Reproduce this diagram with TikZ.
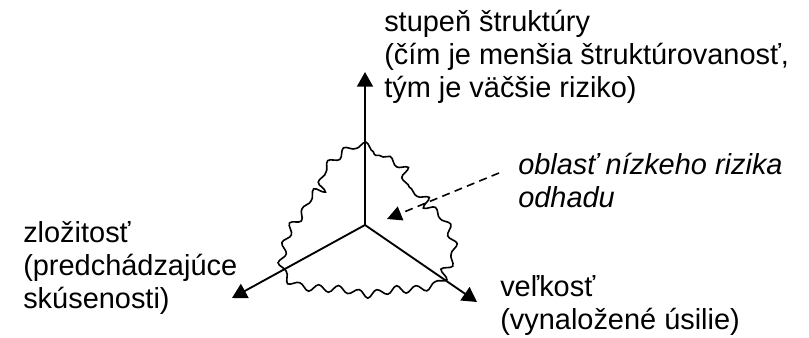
\documentclass[tikz,border=0pt]{standalone}
\usepackage{fontspec}
\setmainfont{Liberation Sans}
\usetikzlibrary{arrows.meta,decorations.pathmorphing}
\begin{document}
\begin{tikzpicture}[x=0.75pt,y=-0.75pt,
  lbl/.style={inner sep=0pt, align=left, anchor=base west, font=\fontsize{21.7pt}{24.75pt}\selectfont},
  axis/.style={line width=1.4pt, -{Triangle[length=11pt,width=12pt]}},
  pointer/.style={line width=1.2pt, dash pattern=on 6pt off 4pt, -{Triangle[length=11pt,width=11pt]}},
  cloud/.style={line width=1.2pt, decorate, decoration={snake, segment length=15pt, amplitude=2.6pt}}]
\useasboundingbox (0,0) rectangle (809,338);
\fill[white] (0,0) rectangle (809,338);
% cloud
\draw[cloud] plot[smooth cycle, tension=0.5] coordinates {
 (357,148) (383,157) (400,167) (402,187) (417,193) (420,207) (438,220)
 (448,247) (447,260) (437,273) (433,287) (407,293) (387,293) (360,298)
 (337,293) (317,292) (293,290) (278,280) (275,263) (283,233) (297,217)
 (303,200) (317,193) (318,175) (333,160) (347,150)};
% axes
\coordinate (c) at (365,225);
\coordinate (top) at (365,72);
\coordinate (left) at (232,298);
\coordinate (right) at (477,302);
\draw[axis] (c) -- (top);
\draw[axis] (c) -- (left);
\draw[axis] (c) -- (right);
% labels
\node[lbl] (struct) at (384,98) {stupeň štruktúry\\(čím je menšia štruktúrovanosť,\\tým je väčšie riziko)};
\node[lbl, font=\fontsize{21.7pt}{24.75pt}\selectfont\itshape] (region) at (518,208) {oblasť nízkeho rizika\\odhadu};
\node[lbl] (compl) at (23,308) {zložitosť\\(predchádzajúce\\skúsenosti)};
\node[lbl] (size) at (500,329) {veľkosť\\(vynaložené úsilie)};
% pointer
\coordinate (ps) at (499,173);
\coordinate (pe) at (387,219);
\draw[pointer] (ps) -- (pe);
\end{tikzpicture}
\end{document}
